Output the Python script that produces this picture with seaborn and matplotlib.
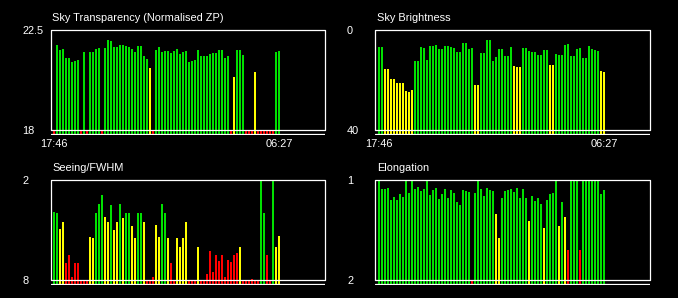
import pandas as pd
import seaborn as sns
import matplotlib.pyplot as plt

# --- DATA: one bar per ~10 min exposure slot, 17:46 -> 06:27 ---
time_labels = ["17:46", "06:27"]

transparency = [18.0, 21.83, 21.6, 21.65, 21.24, 21.24, 21.06, 21.11, 21.15, 18.0,
                21.51, 18.0, 21.51, 21.51, 21.65, 21.69, 18.0, 21.69, 22.05, 22.0,
                21.74, 21.74, 21.83, 21.83, 21.78, 21.74, 21.65, 21.51, 21.78, 21.78,
                21.33, 21.2, 20.79, 18.0, 21.6, 21.74, 21.51, 21.56, 21.56, 21.47,
                21.56, 21.65, 21.42, 21.51, 21.56, 21.06, 21.11, 21.15, 21.6, 21.33,
                21.33, 21.33, 21.42, 21.47, 21.47, 21.6, 21.6, 21.24, 21.33, 18.0,
                20.39, 21.6, 21.6, 21.38, 18.0, 18.0, 18.0, 20.61, 18.0, 18.0,
                18.0, 18.0, 18.0, 18.0, 21.51, 21.56]

brightness = [6.8, 6.8, 15.6, 15.6, 19.6, 19.6, 21.2, 21.2, 21.2, 24.4,
              24.8, 24.0, 12.4, 12.4, 6.8, 7.2, 12.0, 6.4, 6.4, 6.0,
              7.6, 7.6, 6.4, 6.4, 6.8, 7.2, 8.8, 8.8, 5.2, 5.2,
              7.6, 7.2, 22.0, 22.0, 9.2, 9.2, 4.0, 4.0, 12.4, 10.8,
              7.6, 7.6, 10.4, 10.4, 6.8, 14.4, 14.8, 14.8, 7.2, 7.2,
              8.4, 8.8, 8.8, 10.0, 10.0, 8.0, 8.0, 14.0, 14.0, 9.6,
              10.0, 10.0, 6.0, 5.6, 10.4, 10.4, 7.6, 7.2, 11.2, 11.2,
              6.4, 7.6, 8.0, 8.4, 16.4, 16.8]

seeing = [3.92, 3.98, 4.94, 4.52, 6.98, 6.5, 7.82, 6.98, 6.98, 8.0,
          8.0, 8.0, 5.42, 5.48, 3.98, 3.44, 2.9, 4.22, 4.52, 3.5,
          5.0, 4.52, 3.44, 4.28, 3.98, 3.98, 4.76, 5.48, 3.98, 3.98,
          4.52, 8.0, 8.0, 7.82, 4.7, 5.42, 3.44, 3.98, 5.48, 6.98,
          8.0, 5.48, 6.02, 5.48, 4.52, 8.0, 8.0, 8.0, 6.02, 8.0,
          8.0, 7.64, 6.26, 7.52, 6.5, 6.86, 6.5, 7.82, 6.8, 6.92,
          6.5, 6.38, 6.02, 8.0, 8.0, 8.0, 7.94, 8.0, 8.0, 2.0,
          3.98, 6.5, 8.0, 2.0, 6.02, 5.36]

elongation = [1.0, 1.09, 1.09, 1.08, 1.20, 1.17, 1.20, 1.14, 1.17, 1.0,
              1.13, 1.0, 1.09, 1.07, 1.11, 1.09, 1.0, 1.15, 1.10, 1.08,
              1.19, 1.14, 1.09, 1.18, 1.10, 1.13, 1.22, 1.25, 1.10, 1.11,
              1.12, 2.0, 1.13, 1.0, 1.09, 1.16, 1.08, 1.10, 1.11, 1.34,
              1.58, 1.18, 1.11, 1.10, 1.09, 1.12, 1.08, 1.18, 1.09, 1.18,
              1.41, 1.16, 1.21, 1.18, 1.24, 1.48, 1.20, 1.14, 1.13, 1.0,
              1.46, 1.22, 1.37, 1.70, 1.0, 1.0, 1.0, 1.70, 1.0, 1.0,
              1.0, 1.0, 1.0, 1.0, 1.14, 1.10]

# axis ranges as (bottom, top) of the box
transparency_range = (18, 22.5)
brightness_range = (40, 0)
seeing_range = (8, 2)
elongation_range = (2, 1)

# quality flags
def flag_transparency(v):
    return "good" if v >= 20.9 else ("warn" if v > 19 else "bad")

def flag_brightness(v):
    return "good" if v <= 13 else ("warn" if v <= 30 else "bad")

def flag_seeing(v):
    return "good" if v <= 4.1 else ("warn" if v <= 6.1 else "bad")

def flag_elongation(v):
    return "good" if v < 1.3 else ("warn" if v < 1.65 else "bad")

palette = {"good": "#00e000", "warn": "#ffff00", "bad": "#ff0000"}

# --- STIL ---
sns.set_theme(style="dark", rc={"axes.facecolor": "black", "figure.facecolor": "black",
                                "text.color": "white", "xtick.color": "white",
                                "ytick.color": "white", "axes.grid": False})
plt.rcParams["font.family"] = ["Liberation Sans", "DejaVu Sans"]
FS = 7.9

W, H = 678, 298
fig = plt.figure(figsize=(W / 100, H / 100), dpi=100)


def px_rect(x0, y0, x1, y1):
    return [x0 / W, 1 - y1 / H, (x1 - x0) / W, (y1 - y0) / H]


panels = [
    ("Sky Transparency (Normalised ZP)", transparency, transparency_range, flag_transparency, (50.5, 30), True),
    ("Sky Brightness", brightness, brightness_range, flag_brightness, (375.5, 30), True),
    ("Seeing/FWHM", seeing, seeing_range, flag_seeing, (50.5, 180), False),
    ("Elongation", elongation, elongation_range, flag_elongation, (375.5, 180), False),
]

XL = (-7 / 6, 90 + 1 / 3)

for title, values, (lo, hi), flagger, (x0, y0), show_time in panels:
    ax = fig.add_axes(px_rect(x0, y0, x0 + 274.5, y0 + 105))
    base = lo - 0.05 * (hi - lo)
    df = pd.DataFrame({"slot": range(len(values)), "value": values})
    df["flag"] = df["value"].map(flagger)
    df["height"] = df["value"] - base

    sns.barplot(data=df, x="slot", y="height", hue="flag", hue_order=["good", "warn", "bad"],
                palette=palette, dodge=False, width=2 / 3, errorbar=None, legend=False,
                saturation=1, linewidth=0, bottom=base, ax=ax)

    ax.set_xlim(*XL)
    ax.set_ylim(base, hi)
    for s in ax.spines.values():
        s.set_visible(False)

    # ramme + linje under
    ax.plot([XL[0], XL[0], XL[1], XL[1], XL[0]], [lo, hi, hi, lo, lo],
            color="white", lw=0.9, clip_on=False, zorder=3)
    ax.axhline(lo - 0.04 * (hi - lo), color="white", lw=0.9, zorder=3)

    ax.set_yticks([lo, hi], [f"{lo:g}", f"{hi:g}"])
    ax.tick_params(axis="y", length=0, pad=20.5, labelsize=FS, colors="white")
    for lab in ax.get_yticklabels():
        lab.set_ha("left")

    if show_time:
        ax.set_xticks([0, len(values) - 1], time_labels)
    else:
        ax.set_xticks([])
    ax.tick_params(axis="x", length=0, pad=2.6, labelsize=FS, colors="white")
    ax.set_xlabel("")
    ax.set_ylabel("")

    fig.text((x0 + 1.8) / W, 1 - (y0 - 9.3) / H, title, ha="left", va="baseline",
             fontsize=FS, color="white")

fig.savefig("out.png", dpi=100, facecolor="black")
